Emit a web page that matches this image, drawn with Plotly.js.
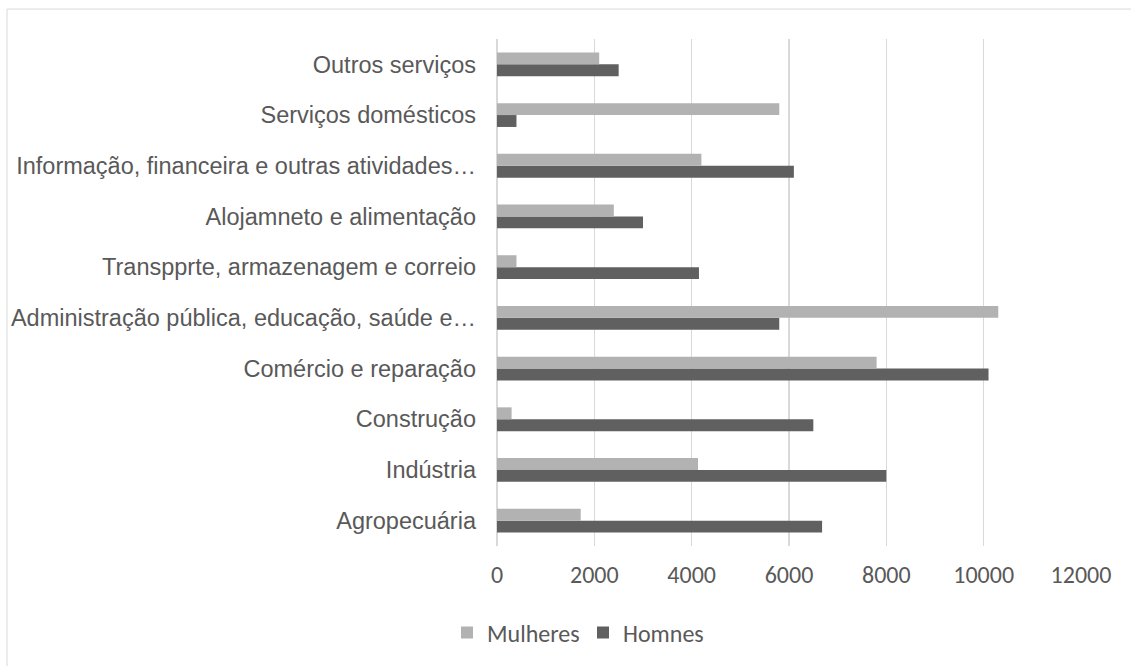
<!DOCTYPE html>
<html>
<head>
<meta charset="utf-8">
<script src="https://cdn.plot.ly/plotly-3.0.1.min.js"></script>
<style>
html,body{margin:0;padding:0;background:#fff;}
#chart{width:1131px;height:666px;}
</style>
</head>
<body>
<div id="chart"></div>
<script>
const categories = [
  "Agropecuária",
  "Indústria",
  "Construção",
  "Comércio e reparação",
  "Administração pública, educação, saúde e…",
  "Transpprte, armazenagem e correio",
  "Alojamneto e alimentação",
  "Informação, financeira e outras atividades…",
  "Serviços domésticos",
  "Outros serviços"
];
const mulheres = [1720, 4130, 300, 7800, 10300, 400, 2400, 4200, 5800, 2100];
const homens   = [6680, 8000, 6500, 10100, 5800, 4150, 3000, 6100, 400, 2500];
const xTicks = [0, 2000, 4000, 6000, 8000, 10000, 12000];

const L = 497, R = 1081, T = 39, B = 547, W = 1131, H = 666;
const px = v => (v - L) / (R - L);
const py = v => (B - v) / (B - T);

const textColor = "#595959";
const tickFont = {family: "Carlito, 'Open Sans', sans-serif", size: 24, color: textColor};

const traces = [
  {
    type: "bar", orientation: "h", name: "Homnes",
    y: categories, x: homens,
    marker: {color: "#606060"},
    legendrank: 2,
    hoverinfo: "x+y+name"
  },
  {
    type: "bar", orientation: "h", name: "Mulheres",
    y: categories, x: mulheres,
    marker: {color: "#b2b2b2"},
    legendrank: 1,
    hoverinfo: "x+y+name"
  }
];

const layout = {
  width: W, height: H,
  margin: {l: L, r: W - R, t: T, b: H - B, pad: 0},
  paper_bgcolor: "#ffffff",
  plot_bgcolor: "#ffffff",
  barmode: "group",
  bargap: 0.53,
  bargroupgap: 0,
  showlegend: true,
  xaxis: {
    range: [0, 12000],
    tickvals: xTicks,
    ticktext: xTicks.map(String),
    showgrid: true,
    gridcolor: "#d9d9d9",
    gridwidth: 1.5,
    zeroline: true,
    zerolinecolor: "#d9d9d9",
    zerolinewidth: 1.5,
    showline: false,
    ticks: "",
    tickfont: tickFont,
    ticklabelstandoff: 12
  },
  yaxis: {
    type: "category",
    categoryorder: "array",
    categoryarray: categories,
    range: [-0.5, 9.5],
    showgrid: false,
    zeroline: false,
    showline: false,
    ticks: "",
    tickfont: {family: "'Liberation Sans', Arial, sans-serif", size: 23.5, color: textColor},
    ticklabelstandoff: 20
  },
  legend: {
    orientation: "h",
    x: px(447), xanchor: "left",
    y: py(633), yanchor: "middle",
    font: tickFont,
    itemwidth: 30,
    entrywidth: 91,
    entrywidthmode: "pixels",
    bgcolor: "rgba(0,0,0,0)",
    traceorder: "normal"
  },
  shapes: [{
    type: "rect", xref: "paper", yref: "paper",
    x0: px(7), x1: px(1140), y0: py(680), y1: py(9),
    line: {color: "#d9d9d9", width: 1},
    fillcolor: "rgba(0,0,0,0)",
    layer: "below"
  }]
};

Plotly.newPlot("chart", traces, layout, {displayModeBar: false, staticPlot: true});
</script>
</body>
</html>
